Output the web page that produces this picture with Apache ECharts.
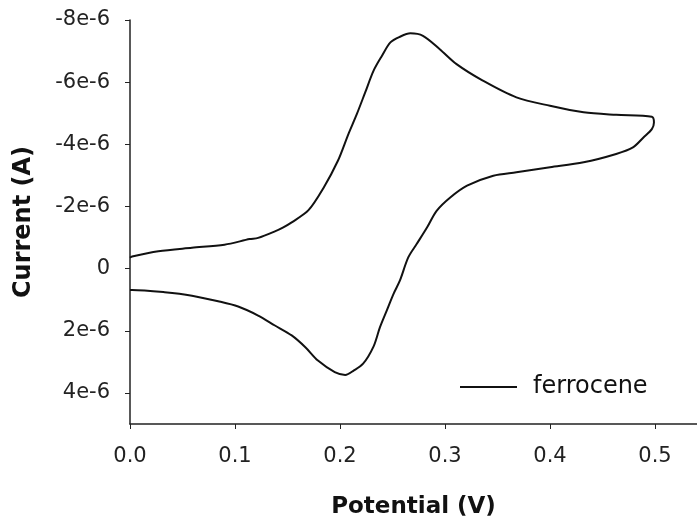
<!DOCTYPE html>
<html>
<head>
<meta charset="utf-8">
<script src="https://cdn.jsdelivr.net/npm/echarts@6/dist/echarts.min.js"></script>
<style>
html, body { margin: 0; padding: 0; background: #fff; }
#main { width: 697px; height: 520px; }
</style>
</head>
<body>
<div id="main"></div>
<script>
// cyclic voltammogram, forward scan then return scan (one closed loop)
var potential = [
	0.000, 0.002, 0.027, 0.059, 0.090, 0.114, 0.122, 0.138, 0.146, 0.154, 0.170, 0.184,
	0.198, 0.208, 0.216, 0.224, 0.232, 0.240, 0.248, 0.257, 0.267, 0.279, 0.295,
	0.311, 0.336, 0.368, 0.400, 0.432, 0.463, 0.497, 0.499,
	0.497, 0.489, 0.479, 0.463, 0.432, 0.400, 0.368, 0.346, 0.321, 0.305, 0.292,
	0.283, 0.273, 0.265, 0.257, 0.251, 0.2445, 0.238, 0.232, 0.222, 0.213, 0.205,
	0.195, 0.179, 0.167, 0.154, 0.138, 0.122, 0.103, 0.084, 0.059, 0.033, 0.002, 0.000
];
// current in microamps (axis shows them as e-6 A)
var currentUA = [
	-0.35, -0.39, -0.56, -0.67, -0.77, -0.95, -0.99, -1.20, -1.33, -1.49, -1.88, -2.58,
	-3.47, -4.33, -4.97, -5.67, -6.37, -6.85, -7.28, -7.46, -7.57, -7.49, -7.06,
	-6.58, -6.05, -5.51, -5.24, -5.03, -4.95, -4.89, -4.70,
	-4.49, -4.22, -3.90, -3.69, -3.42, -3.26, -3.10, -2.99, -2.67, -2.29, -1.86,
	-1.33, -0.79, -0.36, 0.39, 0.81, 1.35, 1.89, 2.50, 3.06, 3.28, 3.42,
	3.33, 2.96, 2.53, 2.15, 1.83, 1.51, 1.22, 1.05, 0.87, 0.76, 0.69, 0.69
];
var seriesName = 'ferrocene';
var xTicks = [0, 0.1, 0.2, 0.3, 0.4, 0.5];

var data = [];
for (var i = 0; i < potential.length; i++) {
	data.push([potential[i], currentUA[i] * 1e-6]);
}

var font = 'DejaVu Sans';
var myChart = echarts.init(document.getElementById('main'));
var option = {
	animation: false,
	backgroundColor: '#fff',
	grid: { left: 130, right: 0, top: 20, bottom: 96, containLabel: false, outerBoundsMode: 'none' },
	legend: {
		data: [seriesName],
		left: 460,
		top: 375,
		padding: 0,
		icon: 'rect',
		itemWidth: 57,
		itemHeight: 2,
		textStyle: { fontFamily: font, fontSize: 24, color: '#111', padding: [0, 0, 0, 11] }
	},
	xAxis: {
		type: 'value',
		min: xTicks[0],
		max: 0.54,
		interval: 0.1,
		name: 'Potential (V)',
		nameLocation: 'middle',
		nameGap: 72,
		nameTextStyle: { fontFamily: font, fontSize: 23, fontWeight: 'bold', color: '#111' },
		axisLine: { onZero: false, lineStyle: { color: '#222', width: 1.5 } },
		axisTick: { length: 5, lineStyle: { color: '#222' } },
		axisLabel: {
			margin: 22,
			fontFamily: font, fontSize: 21, color: '#222',
			showMaxLabel: false,
			formatter: function(v) { return v.toFixed(1); }
		},
		splitLine: { show: false }
	},
	yAxis: {
		type: 'value',
		inverse: true,
		min: -8e-6,
		max: 5e-6,
		interval: 2e-6,
		name: 'Current (A)',
		nameLocation: 'middle',
		nameGap: 94,
		nameTextStyle: { fontFamily: font, fontSize: 24, fontWeight: 'bold', color: '#111' },
		axisLine: { onZero: false, lineStyle: { color: '#222', width: 1.5 } },
		axisTick: { length: 5, lineStyle: { color: '#222' } },
		axisLabel: {
			margin: 20,
			fontFamily: font, fontSize: 21, color: '#222',
			showMaxLabel: false,
			formatter: function(v) {
				var m = Math.round(v * 1e6);
				return m === 0 ? '0' : m + 'e-6';
			}
		},
		splitLine: { show: false }
	},
	series: [{
		name: seriesName,
		type: 'line',
		data: data,
		symbol: 'none',
		smooth: 0.3,
		lineStyle: { color: '#111', width: 2 },
		itemStyle: { color: '#111' }
	}]
};
myChart.setOption(option);
</script>
</body>
</html>
